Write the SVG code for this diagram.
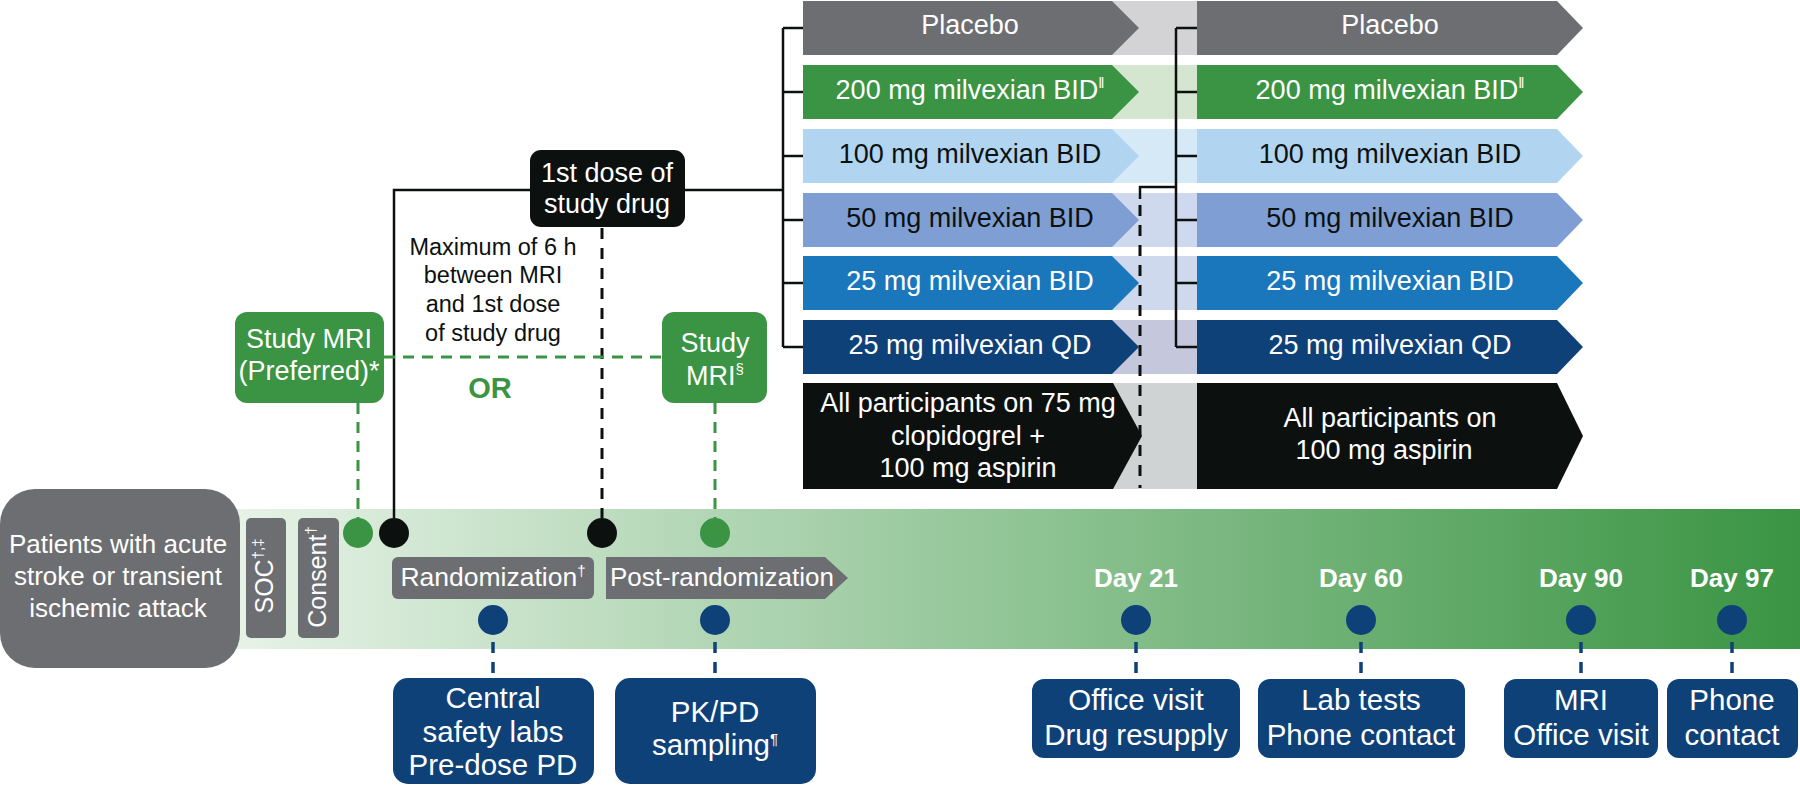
<svg xmlns="http://www.w3.org/2000/svg" width="1800" height="785" viewBox="0 0 1800 785">
<defs>
<linearGradient id="band" x1="240" y1="0" x2="1800" y2="0" gradientUnits="userSpaceOnUse">
<stop offset="0" stop-color="#e6f2e6"/>
<stop offset="0.5" stop-color="#90c495"/>
<stop offset="1" stop-color="#3a9443"/>
</linearGradient>
</defs>
<style>
text{font-family:"Liberation Sans",Arial,sans-serif;}
.w{fill:#ffffff;}
.k{fill:#0c1110;}
.arm{font-size:27px;text-anchor:middle;}
.sup{font-size:15px;}
.solid{fill:none;stroke:#0c1110;stroke-width:2.5;}
.dblack{fill:none;stroke:#0c1110;stroke-width:3;stroke-dasharray:11 9;}
.dgreen{fill:none;stroke:#3a9443;stroke-width:3;stroke-dasharray:11 8;}
.dblue{fill:none;stroke:#0f4179;stroke-width:3.5;stroke-dasharray:11 9;}
.bluebox{fill:#0f4179;}
.bt{font-size:29.5px;text-anchor:middle;fill:#ffffff;}
.day{font-size:26px;font-weight:bold;text-anchor:middle;fill:#ffffff;}
.gray{fill:#6d6e71;}
.green{fill:#3a9443;}
</style>
<rect width="1800" height="785" fill="#ffffff"/>

<!-- timeline band -->
<rect id="band" x="200" y="509" width="1600" height="140" fill="url(#band)"/>

<!-- extension rects between phases -->
<g id="extensions">
<rect x="1108" y="1" width="89" height="54" fill="#d3d2d4"/>
<rect x="1108" y="65" width="89" height="54" fill="#d5e6d0"/>
<rect x="1108" y="129" width="89" height="54" fill="#d6e9f7"/>
<rect x="1108" y="193" width="89" height="54" fill="#cfd9ed"/>
<rect x="1108" y="256" width="89" height="54" fill="#cfd9ed"/>
<rect x="1108" y="320" width="89" height="54" fill="#c5c8dc"/>
<rect x="1108" y="383" width="89" height="106" fill="#d0d3d3"/>
</g>

<!-- phase 1 arms -->
<g id="p1-placebo"><polygon points="803,1 1112,1 1139,28 1112,55 803,55" fill="#6d6e71"/><text class="arm w" x="970" y="34">Placebo</text></g>
<g id="p1-200"><polygon points="803,65 1112,65 1139,92 1112,119 803,119" fill="#3a9443"/><text class="arm w" x="970" y="99">200 mg milvexian BID<tspan class="sup" dy="-11">‖</tspan></text></g>
<g id="p1-100"><polygon points="803,129 1112,129 1139,156 1112,183 803,183" fill="#b1d5f1"/><text class="arm k" x="970" y="163">100 mg milvexian BID</text></g>
<g id="p1-50"><polygon points="803,193 1112,193 1139,220 1112,247 803,247" fill="#7f9fd4"/><text class="arm k" x="970" y="227">50 mg milvexian BID</text></g>
<g id="p1-25bid"><polygon points="803,256 1112,256 1139,283 1112,310 803,310" fill="#1a77bc"/><text class="arm w" x="970" y="290">25 mg milvexian BID</text></g>
<g id="p1-25qd"><polygon points="803,320 1112,320 1139,347 1112,374 803,374" fill="#0f4179"/><text class="arm w" x="970" y="354">25 mg milvexian QD</text></g>
<g id="p1-all"><polygon points="803,383 1113,383 1142,436 1113,489 803,489" fill="#0c1110"/>
<text class="arm w" x="968" y="412">All participants on 75 mg</text>
<text class="arm w" x="968" y="445">clopidogrel +</text>
<text class="arm w" x="968" y="477">100 mg aspirin</text></g>

<!-- phase 2 arms -->
<g id="p2-placebo"><polygon points="1197,1 1557,1 1583,28 1557,55 1197,55" fill="#6d6e71"/><text class="arm w" x="1390" y="34">Placebo</text></g>
<g id="p2-200"><polygon points="1197,65 1557,65 1583,92 1557,119 1197,119" fill="#3a9443"/><text class="arm w" x="1390" y="99">200 mg milvexian BID<tspan class="sup" dy="-11">‖</tspan></text></g>
<g id="p2-100"><polygon points="1197,129 1557,129 1583,156 1557,183 1197,183" fill="#b1d5f1"/><text class="arm k" x="1390" y="163">100 mg milvexian BID</text></g>
<g id="p2-50"><polygon points="1197,193 1557,193 1583,220 1557,247 1197,247" fill="#7f9fd4"/><text class="arm k" x="1390" y="227">50 mg milvexian BID</text></g>
<g id="p2-25bid"><polygon points="1197,256 1557,256 1583,283 1557,310 1197,310" fill="#1a77bc"/><text class="arm w" x="1390" y="290">25 mg milvexian BID</text></g>
<g id="p2-25qd"><polygon points="1197,320 1557,320 1583,347 1557,374 1197,374" fill="#0f4179"/><text class="arm w" x="1390" y="354">25 mg milvexian QD</text></g>
<g id="p2-all"><polygon points="1197,383 1557,383 1583,436 1557,489 1197,489" fill="#0c1110"/>
<text class="arm w" x="1390" y="427">All participants on</text>
<text class="arm w" x="1384" y="459">100 mg aspirin</text></g>

<!-- connectors -->
<g id="connectors">
<path class="solid" d="M685,190 H783 M783,28 V347 M783,28 H803 M783,92 H803 M783,156 H803 M783,220 H803 M783,283 H803 M783,347 H803"/>
<path class="solid" d="M530,190 H394 V518"/>
<path class="solid" d="M1176,28 V347 M1176,28 H1197 M1176,92 H1197 M1176,156 H1197 M1176,220 H1197 M1176,283 H1197 M1176,347 H1197"/>
<path class="solid" d="M1140,199 V187 H1176"/>
<path class="dblack" d="M1140,205 V488"/>
<path class="dblack" d="M602,228 V518"/>
<path class="dgreen" d="M384,357 H662"/>
<path class="dgreen" d="M358,403 V518"/>
<path class="dgreen" d="M715,403 V518"/>
<path class="dblue" d="M493,642 V677"/>
<path class="dblue" d="M715,642 V677"/>
<path class="dblue" d="M1136,642 V677"/>
<path class="dblue" d="M1361,642 V677"/>
<path class="dblue" d="M1581,642 V677"/>
<path class="dblue" d="M1732,642 V677"/>
</g>

<!-- timeline dots -->
<g id="dots">
<circle cx="358" cy="533" r="15" fill="#3a9443"/>
<circle cx="394" cy="533" r="15" fill="#0c1110"/>
<circle cx="602" cy="533" r="15" fill="#0c1110"/>
<circle cx="715" cy="533" r="15" fill="#3a9443"/>
<circle cx="493" cy="620" r="15" fill="#0f4179"/>
<circle cx="715" cy="620" r="15" fill="#0f4179"/>
<circle cx="1136" cy="620" r="15" fill="#0f4179"/>
<circle cx="1361" cy="620" r="15" fill="#0f4179"/>
<circle cx="1581" cy="620" r="15" fill="#0f4179"/>
<circle cx="1732" cy="620" r="15" fill="#0f4179"/>
</g>

<g id="first-dose">
<rect x="530" y="150" width="155" height="77" rx="11" fill="#0c1110"/>
<text class="w" x="607" y="182" font-size="27" text-anchor="middle">1st dose of</text>
<text class="w" x="607" y="213" font-size="27" text-anchor="middle">study drug</text>
</g>

<g id="max-note" font-size="23.5" text-anchor="middle" fill="#0c1110">
<text x="493" y="255">Maximum of 6 h</text>
<text x="493" y="283">between MRI</text>
<text x="493" y="312">and 1st dose</text>
<text x="493" y="341">of study drug</text>
</g>

<g id="mri-preferred">
<rect x="235" y="312" width="149" height="91" rx="12" fill="#3a9443"/>
<text class="w" x="309" y="348" font-size="27" text-anchor="middle">Study MRI</text>
<text class="w" x="309" y="380" font-size="27" text-anchor="middle">(Preferred)*</text>
</g>

<g id="mri-post">
<rect x="662" y="312" width="105" height="91" rx="12" fill="#3a9443"/>
<text class="w" x="715" y="352" font-size="27" text-anchor="middle">Study</text>
<text class="w" x="715" y="385" font-size="27" text-anchor="middle">MRI<tspan class="sup" dy="-11">§</tspan></text>
</g>

<text id="or" x="490" y="398" font-size="29" font-weight="bold" text-anchor="middle" fill="#3a9443">OR</text>

<g id="patients">
<rect x="0" y="489" width="240" height="179" rx="35" fill="#6d6e71"/>
<text class="w" x="118" y="553" font-size="26" text-anchor="middle">Patients with acute</text>
<text class="w" x="118" y="585" font-size="26" text-anchor="middle">stroke or transient</text>
<text class="w" x="118" y="617" font-size="26" text-anchor="middle">ischemic attack</text>
</g>

<g id="soc">
<rect x="246" y="518" width="40" height="120" rx="5" fill="#6d6e71"/>
<text class="w" font-size="25" text-anchor="middle" transform="translate(273,576) rotate(-90)">SOC<tspan class="sup" dy="-10">†,‡</tspan></text>
</g>

<g id="consent">
<rect x="298" y="518" width="41" height="120" rx="5" fill="#6d6e71"/>
<text class="w" font-size="25" text-anchor="middle" transform="translate(326,577) rotate(-90)">Consent<tspan class="sup" dy="-10">†</tspan></text>
</g>

<g id="randomization">
<rect x="392" y="557" width="202" height="42" rx="6" fill="#6d6e71"/>
<text class="w" x="493" y="586" font-size="26.5" text-anchor="middle">Randomization<tspan class="sup" dy="-10">†</tspan></text>
</g>

<g id="post-randomization">
<polygon points="606,557 825,557 848,578 825,599 606,599" fill="#6d6e71"/>
<text class="w" x="722" y="586" font-size="26" text-anchor="middle">Post-randomization</text>
</g>

<g id="days">
<text class="day" x="1136" y="587">Day 21</text>
<text class="day" x="1361" y="587">Day 60</text>
<text class="day" x="1581" y="587">Day 90</text>
<text class="day" x="1732" y="587">Day 97</text>
</g>

<g id="box-central">
<rect class="bluebox" x="393" y="678" width="201" height="106" rx="15"/>
<text class="bt" x="493" y="708">Central</text>
<text class="bt" x="493" y="742">safety labs</text>
<text class="bt" x="493" y="775">Pre-dose PD</text>
</g>
<g id="box-pkpd">
<rect class="bluebox" x="615" y="678" width="201" height="106" rx="15"/>
<text class="bt" x="715" y="722">PK/PD</text>
<text class="bt" x="715" y="755">sampling<tspan class="sup" dy="-11">¶</tspan></text>
</g>
<g id="box-day21">
<rect class="bluebox" x="1032" y="679" width="208" height="79" rx="12"/>
<text class="bt" x="1136" y="710">Office visit</text>
<text class="bt" x="1136" y="745">Drug resupply</text>
</g>
<g id="box-day60">
<rect class="bluebox" x="1258" y="679" width="207" height="79" rx="12"/>
<text class="bt" x="1361" y="710">Lab tests</text>
<text class="bt" x="1361" y="745">Phone contact</text>
</g>
<g id="box-day90">
<rect class="bluebox" x="1504" y="679" width="154" height="79" rx="12"/>
<text class="bt" x="1581" y="710">MRI</text>
<text class="bt" x="1581" y="745">Office visit</text>
</g>
<g id="box-day97">
<rect class="bluebox" x="1667" y="679" width="131" height="79" rx="12"/>
<text class="bt" x="1732" y="710">Phone</text>
<text class="bt" x="1732" y="745">contact</text>
</g>
</svg>
